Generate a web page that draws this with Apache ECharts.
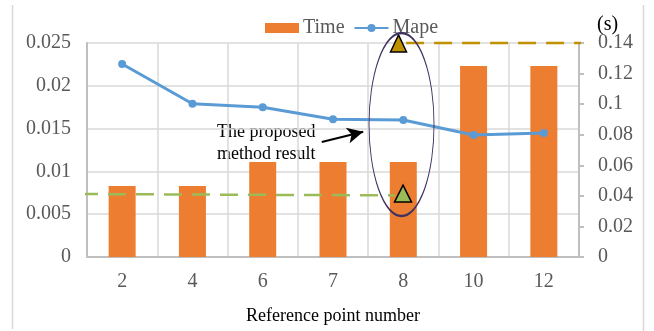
<!DOCTYPE html>
<html>
<head>
<meta charset="utf-8">
<script src="https://cdn.jsdelivr.net/npm/echarts@6/dist/echarts.min.js"></script>
<style>html,body{margin:0;padding:0;background:#fff;}#c{width:654px;height:331px;}</style>
</head>
<body>
<div id="c"></div>
<script>
const categories = ['2', '4', '6', '7', '8', '10', '12'];
const timeValues = [0.0465, 0.0465, 0.0622, 0.0622, 0.0622, 0.1249, 0.1249];
const mapeValues = [0.02255, 0.0179, 0.0175, 0.0161, 0.0160, 0.01425, 0.0145];
const leftTicks = { min: 0, max: 0.025, interval: 0.005 };
const rightTicks = { min: 0, max: 0.14, interval: 0.02 };
// annotation overlay points (x in category-slot units 0..7, y in seconds)
const greenRef = [[-0.1, 0.0412], [4.38, 0.0403]];
const greenMark = [[4.496, 0.0415]];
const goldRef = [[4.54, 0.14], [7.1, 0.14]];
const goldMark = [[4.432, 0.1397]];
const ellipseCenter = [[4.475, 0.0867]];
const arrowFrom = [3.34, 0.0752];
const arrowTo = [3.93, 0.0820];

const font = 'Liberation Serif';
const chart = echarts.init(document.getElementById('c'), null, { renderer: 'canvas' });
chart.setOption({
  animation: false,
  backgroundColor: '#fff',
  textStyle: { fontFamily: font },
  grid: { left: 87, right: 75, top: 43, bottom: 74, outerBoundsMode: 'none' },
  legend: {
    left: 260, top: 13,
    itemWidth: 34, itemHeight: 10, itemGap: 9,
    textStyle: { fontFamily: font, fontSize: 20, color: '#595959', padding: [0, 0, 0, -1] },
    data: [{ name: 'Time', icon: 'rect' }, { name: 'Mape' }]
  },
  xAxis: [{
    type: 'category', data: categories,
    axisLine: { lineStyle: { color: '#bfbfbf', width: 2 } },
    axisTick: { show: false },
    axisLabel: { fontFamily: font, fontSize: 20, color: '#595959', margin: 15 },
    splitLine: { show: true, interval: 0, lineStyle: { color: '#d9d9d9', width: 1.5 } },
    name: 'Reference point number', nameLocation: 'middle', nameGap: 50,
    nameTextStyle: { fontFamily: font, fontSize: 18, color: '#000' }
  }, {
    type: 'value', min: 0, max: 7, show: false
  }],
  yAxis: [{
    type: 'value', min: leftTicks.min, max: leftTicks.max, interval: leftTicks.interval,
    axisLine: { show: true, lineStyle: { color: '#bfbfbf', width: 2 } },
    axisTick: { show: false },
    axisLabel: { fontFamily: font, fontSize: 20, color: '#595959', margin: 16 },
    splitLine: { show: true, lineStyle: { color: '#d9d9d9', width: 1.5 } }
  }, {
    type: 'value', min: rightTicks.min, max: rightTicks.max, interval: rightTicks.interval,
    axisLine: { show: true, lineStyle: { color: '#bfbfbf', width: 2 } },
    axisTick: { show: true, length: 5, lineStyle: { color: '#bfbfbf', width: 2 } },
    axisLabel: { fontFamily: font, fontSize: 20, color: '#595959', margin: 19 },
    splitLine: { show: false }
  }],
  series: [{
    name: 'Time', type: 'bar', xAxisIndex: 0, yAxisIndex: 1,
    data: timeValues, barWidth: 27,
    itemStyle: { color: '#ed7d31' }
  }, {
    name: 'Mape', type: 'line', xAxisIndex: 0, yAxisIndex: 0,
    data: mapeValues, symbol: 'circle', symbolSize: 8,
    lineStyle: { color: '#5b9bd5', width: 3 },
    itemStyle: { color: '#5b9bd5' }, z: 5
  }, {
    name: 'greenRef', type: 'line', xAxisIndex: 1, yAxisIndex: 1, clip: false,
    data: greenRef, symbol: 'none',
    lineStyle: { color: '#9bbb59', width: 2.5, type: [18, 10] }, z: 6
  }, {
    name: 'goldRef', type: 'line', xAxisIndex: 1, yAxisIndex: 1, clip: false,
    data: goldRef, symbol: 'none',
    lineStyle: { color: '#bf9000', width: 2.5, type: [18, 10] }, z: 6
  }, {
    name: 'greenMark', type: 'scatter', xAxisIndex: 1, yAxisIndex: 1, clip: false,
    data: greenMark, symbol: 'triangle', symbolSize: [17, 17],
    itemStyle: { color: '#9bbb59', borderColor: '#000', borderWidth: 1.5, opacity: 1 }, z: 7
  }, {
    name: 'goldMark', type: 'scatter', xAxisIndex: 1, yAxisIndex: 1, clip: false,
    data: goldMark, symbol: 'triangle', symbolSize: [16, 17],
    itemStyle: { color: '#bf9000', borderColor: '#000', borderWidth: 1.5, opacity: 1 }, z: 7
  }, {
    name: 'ellipse', type: 'scatter', xAxisIndex: 1, yAxisIndex: 1, clip: false,
    data: ellipseCenter, symbol: 'circle', symbolSize: [65, 183],
    itemStyle: { color: 'rgba(0,0,0,0)', borderColor: '#403260', borderWidth: 1.5, opacity: 1 },
    silent: true, z: 8,
    markLine: {
      silent: true, symbol: ['none', 'arrow'], symbolSize: [12, 16],
      lineStyle: { color: '#000', width: 2, type: 'solid' },
      label: { show: false },
      data: [[{ coord: arrowFrom }, { coord: arrowTo }]]
    }
  }],
  graphic: [
    { type: 'line', shape: { x1: 12.5, y1: 5, x2: 12.5, y2: 329 }, style: { stroke: '#d9d9d9', lineWidth: 1.5 } },
    { type: 'line', shape: { x1: 643.5, y1: 5, x2: 643.5, y2: 331 }, style: { stroke: '#d9d9d9', lineWidth: 1.5 } },
    { type: 'text', left: 597, top: 15, style: { text: '(s)', font: '20px "Liberation Serif"', fill: '#000' } },
    { type: 'text', left: 217, top: 121, style: { text: 'The proposed\nmethod result', font: '18px "Liberation Serif"', fill: '#000', lineHeight: 22 } }
  ]
});
</script>
</body>
</html>
